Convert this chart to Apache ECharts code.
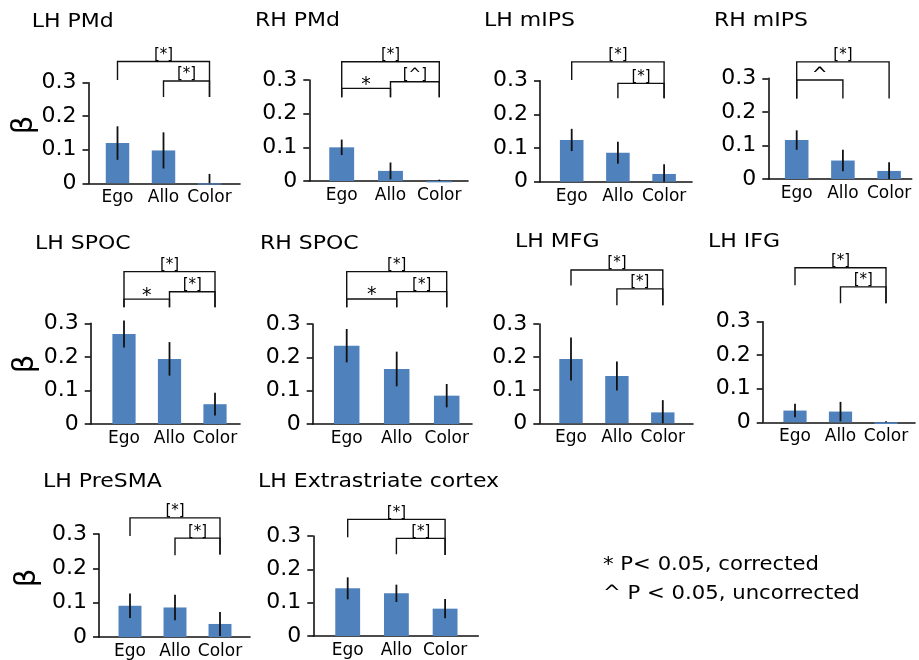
<!DOCTYPE html>
<html>
<head>
<meta charset="utf-8">
<title>ROI betas by condition</title>
<script src="https://cdn.jsdelivr.net/npm/echarts@6/dist/echarts.min.js"></script>
<style>
  html, body { margin: 0; padding: 0; background: #fff; }
  #chart { width: 919px; height: 660px; }
</style>
</head>
<body>
<div id="chart"></div>
<script>
// conditions on the x axis of every panel
const conditions = ['Ego', 'Allo', 'Color'];

// one panel per region
const regions = ['LH PMd', 'RH PMd', 'LH mIPS', 'RH mIPS', 'LH SPOC', 'RH SPOC',
                 'LH MFG', 'LH IFG', 'LH PreSMA', 'LH Extrastriate cortex'];

// mean beta per condition (Ego, Allo, Color)
const betas = [
    [0.120, 0.098, -0.004],
    [0.100, 0.030, -0.004],
    [0.124, 0.086, 0.023],
    [0.116, 0.055, 0.024],
    [0.268, 0.194, 0.059],
    [0.235, 0.165, 0.085],
    [0.194, 0.143, 0.033],
    [0.035, 0.032, -0.005],
    [0.091, 0.086, 0.038],
    [0.143, 0.128, 0.082]
];

// error bar half length
const errors = [
    [0.050, 0.054, 0.032],
    [0.023, 0.025, 0.008],
    [0.033, 0.033, 0.029],
    [0.029, 0.032, 0.026],
    [0.040, 0.050, 0.034],
    [0.050, 0.052, 0.035],
    [0.065, 0.044, 0.037],
    [0.020, 0.029, 0.008],
    [0.036, 0.037, 0.035],
    [0.033, 0.026, 0.029]
];

// significant pairs: [from, to, mark]
const comparisons = [
    [[0, 2, '[*]'], [1, 2, '[*]']],
    [[0, 2, '[*]'], [0, 1, '*'], [1, 2, '[^]']],
    [[0, 2, '[*]'], [1, 2, '[*]']],
    [[0, 2, '[*]'], [0, 1, '^']],
    [[0, 2, '[*]'], [0, 1, '*'], [1, 2, '[*]']],
    [[0, 2, '[*]'], [0, 1, '*'], [1, 2, '[*]']],
    [[0, 2, '[*]'], [1, 2, '[*]']],
    [[0, 2, '[*]'], [1, 2, '[*]']],
    [[0, 2, '[*]'], [1, 2, '[*]']],
    [[0, 2, '[*]'], [1, 2, '[*]']]
];

const yTicks = [0, 0.1, 0.2, 0.3];
const legendNotes = ['* P< 0.05, corrected', '^ P < 0.05, uncorrected'];
const yName = 'β';

// ---- layout (pixels), not data ----
// axisX: y axis line, top/bottom: pixel of 0.3 and 0, ego: centre of first bar,
// unit: distance between bars, end: right end of x axis
const layout = [
    { axisX: 88.5, top: 82.7, bottom: 183.3, ego: 117.5, unit: 46, end: 240, title: [31.7, 22] },
    { axisX: 309.3, top: 80, bottom: 181, ego: 341.7, unit: 48.8, end: 468, title: [255, 21] },
    { axisX: 540, top: 80.7, bottom: 181.7, ego: 571.7, unit: 46.2, end: 692, title: [484, 21] },
    { axisX: 768.3, top: 78.3, bottom: 179, ego: 796.7, unit: 46.2, end: 911.7, title: [714, 21] },
    { axisX: 90.7, top: 323.3, bottom: 424, ego: 124, unit: 45.5, end: 240, title: [35, 244] },
    { axisX: 312.7, top: 324, bottom: 424, ego: 346.7, unit: 50, end: 472, title: [260, 244] },
    { axisX: 539.3, top: 324, bottom: 423.3, ego: 571, unit: 45.9, end: 693, title: [515, 241.5] },
    { axisX: 762.7, top: 321.7, bottom: 422.3, ego: 795, unit: 45.5, end: 915, title: [708, 242] },
    { axisX: 99, top: 534, bottom: 638.3, ego: 130, unit: 45, end: 250, title: [43, 481.5] },
    { axisX: 313.3, top: 536, bottom: 636, ego: 347.7, unit: 48.7, end: 478.3, title: [258, 481.5] }
];

// bracket heights in beta units: [line, left leg end, right leg end]
const bracketLevels = [
    [[0.363, 0.308, 0.257], [0.305, 0.257, 0.257]],
    [[0.354, 0.249, 0.249], [0.275, 0.249, 0.249], [0.295, 0.249, 0.249]],
    [[0.356, 0.302, 0.248], [0.292, 0.248, 0.248]],
    [[0.349, 0.240, 0.240], [0.295, 0.240, 0.240]],
    [[0.454, 0.348, 0.348], [0.372, 0.348, 0.348], [0.394, 0.348, 0.348]],
    [[0.457, 0.350, 0.350], [0.375, 0.350, 0.350], [0.397, 0.350, 0.350]],
    [[0.463, 0.416, 0.357], [0.406, 0.357, 0.357]],
    [[0.461, 0.409, 0.355], [0.404, 0.355, 0.355]],
    [[0.347, 0.294, 0.240], [0.288, 0.238, 0.240]],
    [[0.350, 0.296, 0.243], [0.293, 0.245, 0.243]]
];

// panels that carry the rotated beta label: [panel, x, y]
const betaLabels = [[0, 24, 125], [4, 25, 364], [8, 27, 578]];

const FONT = '"DejaVu Sans", Arial, sans-serif';
const BAR_COLOR = '#4f81bd';
const INK = '#111';

const chart = echarts.init(document.getElementById('chart'), null, { renderer: 'canvas' });

const grids = [], xAxes = [], yAxes = [], series = [], graphics = [];

regions.forEach(function (name, i) {
    const L = layout[i];
    const xMin = 1 - (L.ego - L.axisX) / L.unit;
    const xMax = xMin + (L.end - L.axisX) / L.unit;

    grids.push({
        left: L.axisX,
        top: L.top,
        width: L.end - L.axisX,
        height: L.bottom - L.top,
        containLabel: false
    });

    xAxes.push({
        gridIndex: i,
        type: 'value',
        min: xMin,
        max: xMax,
        axisLine: { show: true, onZero: false, lineStyle: { color: INK, width: 1.6 } },
        axisTick: { show: false },
        splitLine: { show: false },
        axisLabel: {
            customValues: [1, 2, 3],
            formatter: function (v) { return conditions[Math.round(v) - 1]; },
            fontFamily: FONT,
            fontSize: 17,
            color: '#000',
            margin: 6
        }
    });

    yAxes.push({
        gridIndex: i,
        type: 'value',
        min: yTicks[0],
        max: yTicks[yTicks.length - 1],
        interval: 0.1,
        axisLine: { show: true, onZero: false, lineStyle: { color: INK, width: 1.6 } },
        axisTick: { show: true, length: 6, lineStyle: { color: INK, width: 1.6 } },
        splitLine: { show: false },
        axisLabel: {
            formatter: function (v) { return v === 0 ? '0' : v.toFixed(1); },
            fontFamily: FONT,
            fontSize: 22,
            color: '#000',
            margin: 12
        }
    });

    // bars
    series.push({
        type: 'bar',
        xAxisIndex: i,
        yAxisIndex: i,
        barWidth: L.unit * 0.51,
        clip: false,
        itemStyle: { color: BAR_COLOR },
        data: betas[i].map(function (v, k) { return [k + 1, v]; })
    });

    // error bars, cut at the axis
    series.push({
        type: 'custom',
        xAxisIndex: i,
        yAxisIndex: i,
        clip: false,
        z: 3,
        data: betas[i].map(function (v, k) { return [k + 1, v, errors[i][k]]; }),
        renderItem: function (params, api) {
            const x = api.value(0), v = api.value(1), e = api.value(2);
            const hi = api.coord([x, v + e]);
            const lo = api.coord([x, Math.max(v - e, 0)]);
            return {
                type: 'line',
                shape: { x1: hi[0], y1: hi[1], x2: lo[0], y2: lo[1] },
                style: { stroke: INK, lineWidth: 1.8 }
            };
        }
    });

    // significance brackets
    const pairs = comparisons[i];
    series.push({
        type: 'custom',
        xAxisIndex: i,
        yAxisIndex: i,
        clip: false,
        z: 4,
        data: pairs.map(function (p, k) {
            const lv = bracketLevels[i][k];
            return [p[0] + 1, p[1] + 1, lv[0], lv[1], lv[2]];
        }),
        renderItem: function (params, api) {
            const a = api.value(0), b = api.value(1);
            const h = api.value(2), ya = api.value(3), yb = api.value(4);
            const p1 = api.coord([a, ya]);
            const p2 = api.coord([a, h]);
            const p3 = api.coord([b, h]);
            const p4 = api.coord([b, yb]);
            const mark = pairs[params.dataIndex][2];
            const single = mark.length === 1;
            return {
                type: 'group',
                children: [{
                    type: 'polyline',
                    shape: { points: [p1, p2, p3, p4] },
                    style: { stroke: INK, lineWidth: 1.4, fill: null }
                }, {
                    type: 'text',
                    x: (p2[0] + p3[0]) / 2,
                    y: p2[1] + (single ? 6 : 1),
                    style: {
                        text: mark,
                        font: (single ? '19px ' : '15px ') + FONT,
                        fill: '#000',
                        textAlign: 'center',
                        textVerticalAlign: 'bottom'
                    }
                }]
            };
        }
    });

    // panel title
    graphics.push({
        type: 'text',
        x: L.title[0],
        y: L.title[1],
        scaleX: 1.1,
        style: {
            text: name,
            font: '20px ' + FONT,
            fill: '#000',
            textAlign: 'left',
            textVerticalAlign: 'middle'
        }
    });
});

betaLabels.forEach(function (b) {
    graphics.push({
        type: 'text',
        x: b[1],
        y: b[2],
        rotation: Math.PI / 2,
        style: {
            text: yName,
            font: '29px ' + FONT,
            fill: '#000',
            textAlign: 'center',
            textVerticalAlign: 'middle'
        }
    });
});

legendNotes.forEach(function (t, k) {
    graphics.push({
        type: 'text',
        x: 603,
        y: 565 + k * 28.5,
        scaleX: 1.06,
        style: {
            text: t,
            font: '20px ' + FONT,
            fill: '#000',
            textAlign: 'left',
            textVerticalAlign: 'middle'
        }
    });
});

chart.setOption({
    animation: false,
    backgroundColor: '#fff',
    grid: grids,
    xAxis: xAxes,
    yAxis: yAxes,
    series: series,
    graphic: { elements: graphics }
});

window.addEventListener('resize', function () { chart.resize(); });
</script>
</body>
</html>
